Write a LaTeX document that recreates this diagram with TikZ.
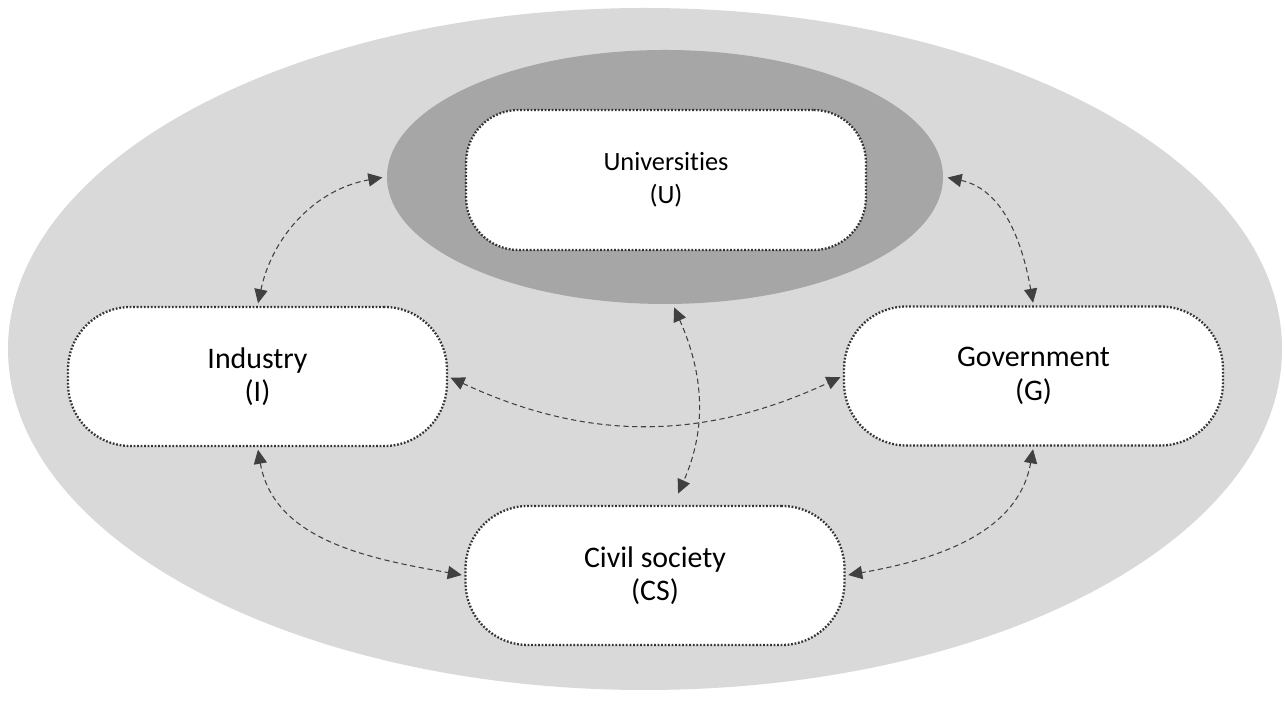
\documentclass[tikz,border=0pt]{standalone}
\usepackage{fontspec}
\setmainfont[Ligatures={NoCommon,NoRequired}]{Carlito}
\usetikzlibrary{arrows.meta}
\definecolor{outerg}{HTML}{D9D9D9}
\definecolor{innerg}{HTML}{A6A6A6}
\definecolor{lineg}{HTML}{333333}
\definecolor{arrowg}{HTML}{404040}
\begin{document}
\begin{tikzpicture}[x=0.02cm,y=0.02cm,
  actor/.style={draw=lineg, fill=white, line width=1.3pt, dash pattern=on 1pt off 1pt,
    rounded corners=1.25cm, minimum width=7.58cm, minimum height=2.78cm, align=center,
    inner sep=0pt, font=\fontsize{17}{19}\selectfont},
  link/.style={draw=arrowg, line width=0.6pt, dash pattern=on 3pt off 2pt,
    {Triangle[length=8pt,width=7.5pt]}-{Triangle[length=8pt,width=7.5pt]},
    shorten <=1.5pt, shorten >=1.5pt}]
\useasboundingbox (0,0) rectangle (1285,702);
\fill[outerg] (645,353) ellipse [x radius=637, y radius=341];
\fill[innerg] (665,525) ellipse [x radius=278, y radius=127];
\coordinate (Uw) at (385,525);
\coordinate (Ue) at (945,525);
\coordinate (Us) at (673,397);
\coordinate (CSt) at (677,206);
\node[actor, minimum width=8cm, minimum height=2.8cm, rounded corners=1.05cm,
  font=\fontsize{15}{19}\selectfont] (U) at (666,522) {Universities\\(U)};
\node[actor] (I) at (257.5,325.5) {Industry\\(I)};
\node[actor] (G) at (1033.5,326) {Government\\(G)};
\node[actor] (CS) at (655,126.5) {Civil society\\(CS)};
\draw[link] (I.north) to[out=78,in=190] (Uw);
\draw[link] (Ue) to[out=-12,in=100] (G.north);
\draw[link] (I.south) to[out=-80,in=170] (CS.west);
\draw[link] (G.south) to[out=-100,in=10] (CS.east);
\draw[link] (I.east) to[out=-25,in=205] (G.west);
\draw[link] (Us) to[out=-66,in=66] (CSt);
\end{tikzpicture}
\end{document}
